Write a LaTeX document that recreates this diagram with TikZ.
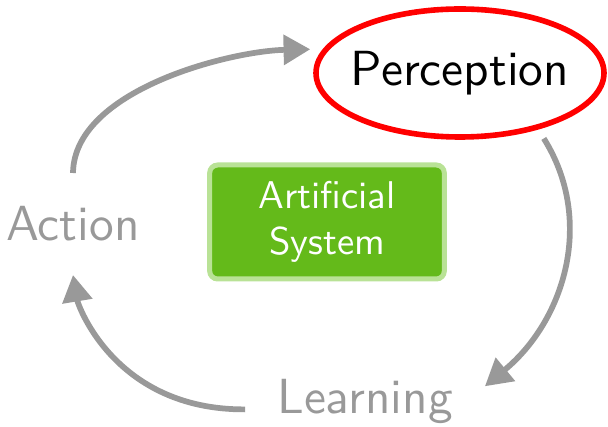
\documentclass[tikz,border=0pt]{standalone}
\usepackage{amssymb, mathtools, amsmath}
\usepackage{fontspec}
\setsansfont{lmsans10-regular.otf}
\usetikzlibrary{shapes.geometric,arrows.meta}

\begin{document}
\begin{tikzpicture}[x=0.75pt,y=0.75pt,yscale=-1,xscale=1,
  stage/.style={text={rgb,255:red,153;green,153;blue,153}, font=\sffamily\fontsize{37}{43}\selectfont, inner xsep=24pt, inner ysep=25pt},
  percept/.style={ellipse, draw={rgb,255:red,255;green,0;blue,0}, line width=4.2pt, inner xsep=-8pt, inner ysep=0pt, minimum width=216pt, minimum height=96pt, outer sep=10pt, font=\sffamily\fontsize{37}{43}\selectfont},
  system/.style={rectangle, rounded corners=6pt, draw={rgb,255:red,185;green,226;blue,150}, fill={rgb,255:red,100;green,186;blue,26}, line width=3.75pt, minimum width=176pt, minimum height=85.5pt, text=white, align=center, font=\sffamily\fontsize{29}{35}\selectfont},
  loop arrow/.style={draw={rgb,255:red,153;green,153;blue,153}, line width=4.3pt, -{Triangle[length=20pt,width=22pt]}}
]
\useasboundingbox (0,0) rectangle (608,427);

% Text Nodes
\node [percept] (perception) at (460,73) {Perception};
\node [system] (system) at (327,222) {Artificial\\System};
\node [stage] (action) at (73,224) {Action};
\node [stage] (learning) at (365,401) {Learning};

% Curved Arrows
\draw [loop arrow] (action.north) .. controls (74,90) and (230,51) .. (perception.171);
\draw [loop arrow] (perception.-38) .. controls (595,220) and (565,320) .. (learning.7);
\draw [loop arrow] (learning.-176) .. controls (115,410) and (78,305) .. (action.south);

\end{tikzpicture}
\end{document}
